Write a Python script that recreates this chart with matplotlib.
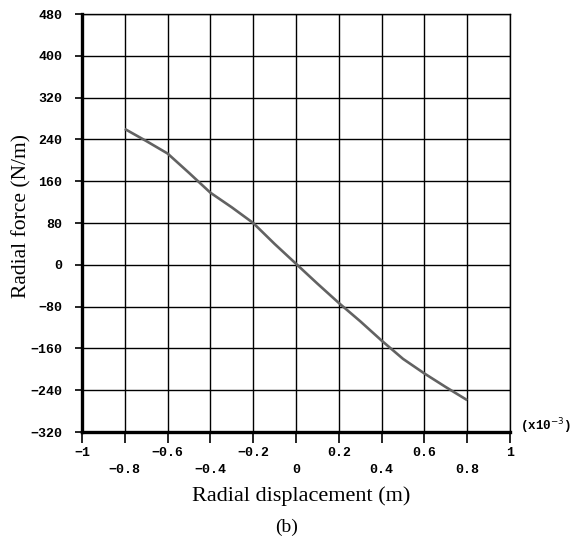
import matplotlib
matplotlib.use('Agg')
import matplotlib.pyplot as plt
from matplotlib.font_manager import FontProperties
import numpy as np

# Radial displacement (x1e-3 m) and radial force (N/m)
disp = [-0.8, -0.7, -0.6, -0.5, -0.4, -0.3, -0.2, -0.1, 0.0,
        0.1, 0.2, 0.3, 0.4, 0.5, 0.6, 0.7, 0.8]
force = [260, 237, 213, 176, 138, 110, 80, 40, 2,
         -36, -73, -108, -145, -180, -208, -234, -259]

xticks_top = [-1, -0.6, -0.2, 0.2, 0.6, 1]
xticks_low = [-0.8, -0.4, 0, 0.4, 0.8]
yticks = np.arange(-320, 481, 80)

tick_font = dict(family='Liberation Mono', weight='bold', size=9.5)

fig = plt.figure(figsize=(5.84, 5.39), dpi=100)
ax = fig.add_axes([0.1404, 0.1985, 0.7329, 0.7755])

ax.plot(disp, force, color='#626262', lw=1.9, solid_capstyle='butt')

ax.set_xlim(-1, 1)
ax.set_ylim(-320, 480)

def fmt(v):
    s = '%g' % v
    return s.replace('-', '\u2212')

ax.set_xticks(xticks_top)
ax.set_xticklabels([fmt(v) for v in xticks_top])
ax.set_xticks(xticks_low, minor=True)
ax.set_xticklabels([fmt(v) for v in xticks_low], minor=True)
ax.set_yticks(yticks)
ax.set_yticklabels([fmt(v) for v in yticks])

for lab in ax.get_xticklabels(which='both') + ax.get_yticklabels():
    lab.set_fontproperties(FontProperties(**tick_font))

ax.tick_params(axis='x', which='major', direction='out', length=8, width=1.2, pad=3)
ax.tick_params(axis='x', which='minor', direction='out', length=8, width=1.2, pad=15)
ax.tick_params(axis='y', direction='out', length=5, width=1.2, pad=9)

ax.grid(True, which='both', color='black', lw=1.0)
ax.set_axisbelow(True)

for side in ['left', 'bottom']:
    ax.spines[side].set_linewidth(2.4)
for side in ['top', 'right']:
    ax.spines[side].set_linewidth(1.0)

ax.set_xlabel('Radial displacement (m)', family='Liberation Serif', size=16)
ax.set_ylabel('Radial force (N/m)', family='Liberation Serif', size=15.5)
ax.xaxis.set_label_coords(0.511, -0.153)
ax.yaxis.set_label_coords(-0.14, 0.517)
ax.xaxis.label.set_va('center')
ax.yaxis.label.set_va('center')

ax.text(1.023, 0.014, '(x10$^{-3}$)', transform=ax.transAxes, ha='left', va='center',
        family='Liberation Mono', weight='bold', size=9)
fig.text(0.491, 0.022, '(b)', family='Liberation Serif', size=14, ha='center', va='center')

fig.savefig('out.png', dpi=100)
